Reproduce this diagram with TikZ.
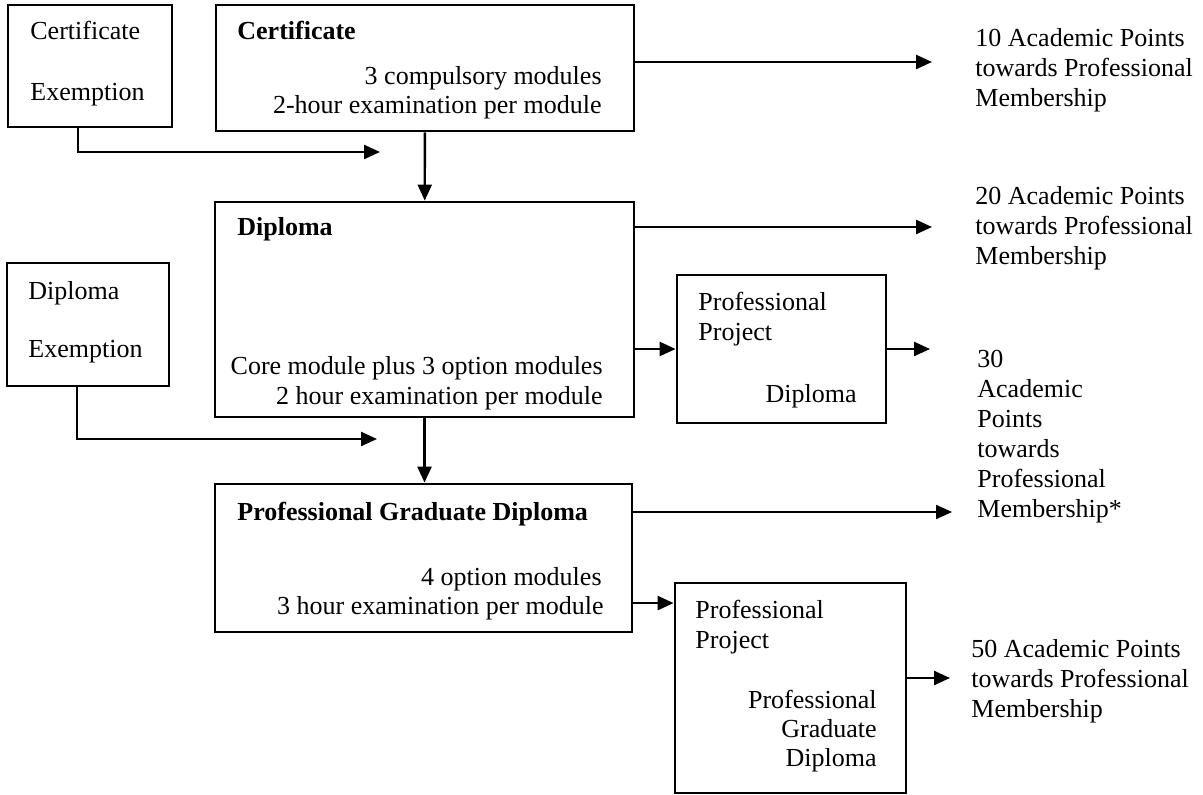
\documentclass[tikz,border=0pt]{standalone}
\usepackage{fontspec}
\setmainfont{Liberation Serif}
\usetikzlibrary{arrows.meta}

\begin{document}
\begin{tikzpicture}[x=0.5pt,y=-0.5pt,
  box/.style={draw,line width=1.4pt,inner sep=0pt},
  txt/.style={inner sep=0pt,font=\fontsize{13}{15}\selectfont},
  head/.style={txt,font=\fontsize{13}{15}\selectfont\bfseries},
  arr/.style={line width=1.2pt,-{Triangle[length=8pt,width=7pt]}}]
  \useasboundingbox (0,0) rectangle (1203,795);
  % boxes
  \node[box,minimum width=82pt,minimum height=61pt] (certex) at (90,66) {};
  \node[box,minimum width=209pt,minimum height=63pt] (cert) at (425,68) {};
  \node[box,minimum width=209.5pt,minimum height=107.5pt] (dip) at (424.5,309.5) {};
  \node[box,minimum width=81pt,minimum height=61.5pt] (dipex) at (88,324.5) {};
  \node[box,minimum width=104.5pt,minimum height=74pt] (pp1) at (781.5,349) {};
  \node[box,minimum width=208.5pt,minimum height=74pt] (pgd) at (423.5,558) {};
  \node[box,minimum width=115.5pt,minimum height=105pt] (pp2) at (790.5,688) {};
  % texts in the boxes
  \node[txt,anchor=base west] (ce1) at (30,40) {Certificate};
  \node[txt,anchor=base west] (ce2) at (30,101) {Exemption};
  \node[head,anchor=base west] (c1) at (237,40) {Certificate};
  \node[txt,anchor=base east] (c2) at (602,85) {3 compulsory modules};
  \node[txt,anchor=base east] (c3) at (602,114) {2-hour examination per module};
  \node[head,anchor=base west] (d1) at (237,236) {Diploma};
  \node[txt,anchor=base east] (d2) at (603,375) {Core module plus 3 option modules};
  \node[txt,anchor=base east] (d3) at (603,405) {2 hour examination per module};
  \node[txt,anchor=base west] (de1) at (28,300) {Diploma};
  \node[txt,anchor=base west] (de2) at (28,358) {Exemption};
  \node[txt,anchor=base west] (pa1) at (698,311) {Professional};
  \node[txt,anchor=base west] (pa2) at (698,341) {Project};
  \node[txt,anchor=base east] (pa3) at (857,403) {Diploma};
  \node[head,anchor=base west] (g1) at (237,521) {Professional Graduate Diploma};
  \node[txt,anchor=base east] (g2) at (602,585) {4 option modules};
  \node[txt,anchor=base east] (g3) at (604,614) {3 hour examination per module};
  \node[txt,anchor=base west] (pb1) at (695,618) {Professional};
  \node[txt,anchor=base west] (pb2) at (695,648) {Project};
  \node[txt,anchor=base east] (pb3) at (877,708) {Professional};
  \node[txt,anchor=base east] (pb4) at (877,737) {Graduate};
  \node[txt,anchor=base east] (pb5) at (877,766) {Diploma};
  % points
  \node[txt,anchor=west,align=left] (p10) at (975,70) {10 Academic Points\\towards Professional\\Membership};
  \node[txt,anchor=west,align=left] (p20) at (975,228) {20 Academic Points\\towards Professional\\Membership};
  \node[txt,anchor=west,align=left] (p30) at (977,437) {30\\Academic\\Points\\towards\\Professional\\Membership*};
  \node[txt,anchor=west,align=left] (p50) at (971,681) {50 Academic Points\\towards Professional\\Membership};
  % arrow ends
  \coordinate (e10) at (932,62);
  \coordinate (e20) at (932,227);
  \coordinate (e30) at (930,349);
  \coordinate (e30b) at (952,512);
  \coordinate (e50) at (950,678);
  \coordinate (k1) at (380,152);
  \coordinate (k2) at (377,439);

  \draw[arr] (cert.east |- e10) -- (e10);
  \draw[arr] ([xshift=-6pt]certex.south) |- (k1);
  \draw[arr] (cert) -- (dip);
  \draw[arr] (dip.east |- e20) -- (e20);
  \draw[arr] ([xshift=-5.5pt]dipex.south) |- (k2);
  \draw[arr] (dip.east |- pp1.west) -- (pp1.west);
  \draw[arr] (pp1.east) -- (e30);
  \draw[arr] (dip.south) -- (dip.south |- pgd.north);
  \draw[arr] (pgd.east |- e30b) -- (e30b);
  \draw[arr] (pgd.east |- pp2.144) -- (pp2.144);
  \draw[arr] (pp2.east |- e50) -- (e50);
\end{tikzpicture}
\end{document}
